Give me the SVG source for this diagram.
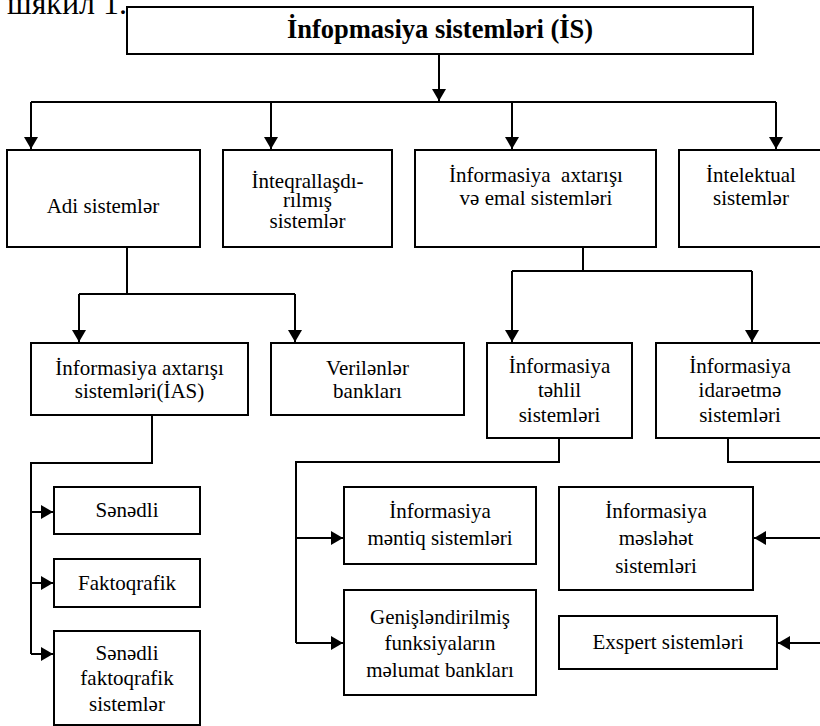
<svg xmlns="http://www.w3.org/2000/svg" width="820" height="726" viewBox="0 0 820 726">
<defs>
<marker id="ar" viewBox="0 0 12 14" refX="12" refY="7" markerWidth="12" markerHeight="14" markerUnits="userSpaceOnUse" orient="auto">
<path d="M0,0 L12,7 L0,14 z" fill="#000"/>
</marker>
</defs>
<rect width="820" height="726" fill="#fff"/>
<text x="7" y="13.5" font-family="Liberation Serif" font-size="32">шякил 1.</text>

<g id="connectors" fill="none" stroke="#000" stroke-width="2">
<path d="M439,55 V101" marker-end="url(#ar)"/>
<path d="M31,102 H776"/>
<path d="M31,102 V149" marker-end="url(#ar)"/>
<path d="M271,102 V149" marker-end="url(#ar)"/>
<path d="M512,102 V149" marker-end="url(#ar)"/>
<path d="M776,102 V149" marker-end="url(#ar)"/>
<path d="M127,247 V294 M79,294 H295"/>
<path d="M79,294 V342" marker-end="url(#ar)"/>
<path d="M295,294 V342" marker-end="url(#ar)"/>
<path d="M583,247 V271 M512,271 H752"/>
<path d="M512,271 V342" marker-end="url(#ar)"/>
<path d="M752,271 V342" marker-end="url(#ar)"/>
<path d="M152,415 V463 H31 V654"/>
<path d="M31,512 H53" marker-end="url(#ar)"/>
<path d="M31,583 H53" marker-end="url(#ar)"/>
<path d="M31,654 H53" marker-end="url(#ar)"/>
<path d="M559,438 V462 H296 V643"/>
<path d="M296,538 H343" marker-end="url(#ar)"/>
<path d="M296,643 H343" marker-end="url(#ar)"/>
<path d="M728,438 V462 H822"/>
<path d="M822,538 H754" marker-end="url(#ar)"/>
<path d="M822,643 H778" marker-end="url(#ar)"/>
</g>

<g id="n-is">
<rect x="127" y="7" width="626" height="47" fill="#fff" stroke="#000" stroke-width="2"/>
<text font-family="Liberation Serif" font-size="26.5" font-weight="bold" text-anchor="middle" x="440" y="38">İnfopmasiya sistemləri (İS)</text>
</g>

<g id="n-adi">
<rect x="7" y="150" width="193" height="97" fill="#fff" stroke="#000" stroke-width="2"/>
<text font-family="Liberation Serif" font-size="21" text-anchor="middle" x="103" y="213">Adi sistemlər</text>
</g>
<g id="n-inteq">
<rect x="223" y="150" width="169" height="97" fill="#fff" stroke="#000" stroke-width="2"/>
<text font-family="Liberation Serif" font-size="21" text-anchor="middle" x="307.5" y="188">İnteqrallaşdı-</text>
<text font-family="Liberation Serif" font-size="21" text-anchor="middle" x="307.5" y="207">rılmış</text>
<text font-family="Liberation Serif" font-size="21" text-anchor="middle" x="307.5" y="228">sistemlər</text>
</g>
<g id="n-axtaris">
<rect x="415" y="150" width="241" height="97" fill="#fff" stroke="#000" stroke-width="2"/>
<text font-family="Liberation Serif" font-size="21" text-anchor="middle" x="536" y="182" xml:space="preserve">İnformasiya  axtarışı</text>
<text font-family="Liberation Serif" font-size="21" text-anchor="middle" x="536" y="205">və emal sistemləri</text>
</g>
<g id="n-intel">
<rect x="679" y="150" width="144" height="97" fill="#fff" stroke="#000" stroke-width="2"/>
<text font-family="Liberation Serif" font-size="21" text-anchor="middle" x="751" y="182">İntelektual</text>
<text font-family="Liberation Serif" font-size="21" text-anchor="middle" x="751" y="205">sistemlər</text>
</g>

<g id="n-ias">
<rect x="31" y="343" width="217" height="72" fill="#fff" stroke="#000" stroke-width="2"/>
<text font-family="Liberation Serif" font-size="21" text-anchor="middle" x="139.5" y="375">İnformasiya axtarışı</text>
<text font-family="Liberation Serif" font-size="21" text-anchor="middle" x="139.5" y="398">sistemləri(İAS)</text>
</g>
<g id="n-veril">
<rect x="271" y="343" width="193" height="72" fill="#fff" stroke="#000" stroke-width="2"/>
<text font-family="Liberation Serif" font-size="21" text-anchor="middle" x="367.5" y="375">Verilənlər</text>
<text font-family="Liberation Serif" font-size="21" text-anchor="middle" x="367.5" y="398">bankları</text>
</g>
<g id="n-tehlil">
<rect x="487" y="343" width="145" height="95" fill="#fff" stroke="#000" stroke-width="2"/>
<text font-family="Liberation Serif" font-size="21" text-anchor="middle" x="559.5" y="373">İnformasiya</text>
<text font-family="Liberation Serif" font-size="21" text-anchor="middle" x="559.5" y="397">təhlil</text>
<text font-family="Liberation Serif" font-size="21" text-anchor="middle" x="559.5" y="422">sistemləri</text>
</g>
<g id="n-idare">
<rect x="656" y="343" width="168" height="95" fill="#fff" stroke="#000" stroke-width="2"/>
<text font-family="Liberation Serif" font-size="21" text-anchor="middle" x="740" y="373">İnformasiya</text>
<text font-family="Liberation Serif" font-size="21" text-anchor="middle" x="740" y="397">idarəetmə</text>
<text font-family="Liberation Serif" font-size="21" text-anchor="middle" x="740" y="422">sistemləri</text>
</g>

<g id="n-senedli">
<rect x="54" y="487" width="146" height="47" fill="#fff" stroke="#000" stroke-width="2"/>
<text font-family="Liberation Serif" font-size="21" text-anchor="middle" x="127" y="517">Sənədli</text>
</g>
<g id="n-fakto">
<rect x="54" y="559" width="146" height="48" fill="#fff" stroke="#000" stroke-width="2"/>
<text font-family="Liberation Serif" font-size="21" text-anchor="middle" x="127" y="590">Faktoqrafik</text>
</g>
<g id="n-senfakto">
<rect x="54" y="631" width="146" height="94" fill="#fff" stroke="#000" stroke-width="2"/>
<text font-family="Liberation Serif" font-size="21" text-anchor="middle" x="127" y="660">Sənədli</text>
<text font-family="Liberation Serif" font-size="21" text-anchor="middle" x="127" y="685">faktoqrafik</text>
<text font-family="Liberation Serif" font-size="21" text-anchor="middle" x="127" y="711">sistemlər</text>
</g>

<g id="n-mentiq">
<rect x="344" y="487" width="192" height="77" fill="#fff" stroke="#000" stroke-width="2"/>
<text font-family="Liberation Serif" font-size="21" text-anchor="middle" x="440" y="518">İnformasiya</text>
<text font-family="Liberation Serif" font-size="21" text-anchor="middle" x="440" y="545">məntiq sistemləri</text>
</g>
<g id="n-genis">
<rect x="344" y="590" width="192" height="105" fill="#fff" stroke="#000" stroke-width="2"/>
<text font-family="Liberation Serif" font-size="21" text-anchor="middle" x="440" y="624">Genişləndirilmiş</text>
<text font-family="Liberation Serif" font-size="21" text-anchor="middle" x="440" y="650">funksiyaların</text>
<text font-family="Liberation Serif" font-size="21" text-anchor="middle" x="440" y="677">məlumat bankları</text>
</g>
<g id="n-meslehet">
<rect x="559" y="487" width="194" height="103" fill="#fff" stroke="#000" stroke-width="2"/>
<text font-family="Liberation Serif" font-size="21" text-anchor="middle" x="656" y="518">İnformasiya</text>
<text font-family="Liberation Serif" font-size="21" text-anchor="middle" x="656" y="545">məsləhət</text>
<text font-family="Liberation Serif" font-size="21" text-anchor="middle" x="656" y="573">sistemləri</text>
</g>
<g id="n-exspert">
<rect x="559" y="616" width="218" height="53" fill="#fff" stroke="#000" stroke-width="2"/>
<text font-family="Liberation Serif" font-size="21" text-anchor="middle" x="668" y="649">Exspert sistemləri</text>
</g>
</svg>
